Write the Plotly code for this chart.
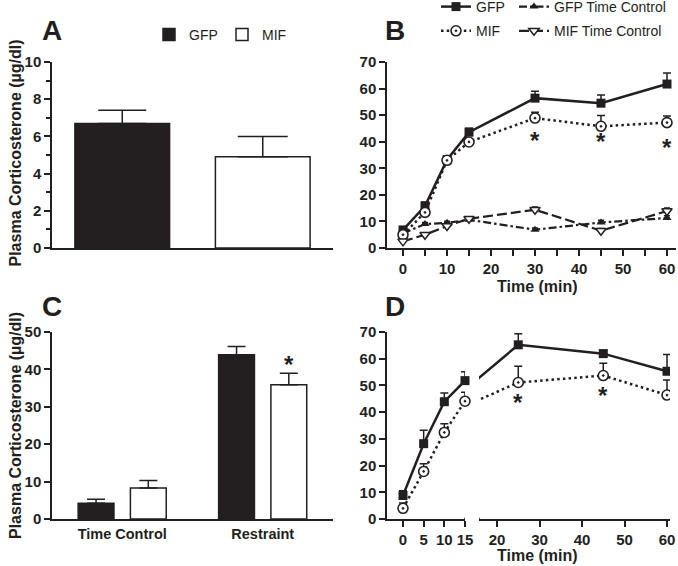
import plotly.graph_objects as go

W, H = 678, 566
INK = "#231f20"
FONT = "Liberation Sans, Arial, sans-serif"

# ---- data ----
A_GROUPS = ["GFP", "MIF"]
A_MEAN = [6.7, 4.9]
A_SEM = [0.7, 1.1]

B_TIME = [0, 5, 10, 15, 30, 45, 60]
B_GFP = [6.8, 15.8, 33.2, 43.6, 56.4, 54.5, 61.7]
B_GFP_SEM = [1.0, 1.5, 1.5, 1.5, 2.6, 3.1, 4.2]
B_MIF = [5.0, 13.4, 33.0, 39.9, 48.9, 45.8, 47.2]
B_MIF_SEM = [1.0, 1.0, 1.0, 1.0, 2.2, 4.1, 2.5]
B_GFP_TC = [5.5, 9.0, 9.5, 10.6, 6.9, 9.6, 11.3]
B_GFP_TC_SEM = [0.6, 0.6, 0.6, 0.8, 0.6, 0.8, 0.8]
B_MIF_TC = [2.5, 5.0, 8.3, 11.0, 14.4, 6.5, 13.9]
B_MIF_TC_SEM = [0.5, 0.6, 0.7, 0.8, 1.0, 0.8, 1.2]
B_SIG_TIME = [30, 45, 60]
B_SIG_Y = [42.0, 41.6, 39.2]

C_GROUPS = ["Time Control", "Restraint"]
C_GFP = [4.2, 43.9]
C_GFP_SEM = [1.1, 2.2]
C_MIF = [8.3, 35.9]
C_MIF_SEM = [2.0, 3.1]
C_SIG_GROUP = "Restraint"
C_SIG_Y = 42.3

D_TIME = [0, 5, 10, 15, 25, 45, 60]
D_GFP = [8.8, 28.2, 43.9, 51.8, 65.2, 61.9, 55.3]
D_GFP_SEM = [1.8, 5.0, 3.3, 3.3, 4.1, 1.3, 6.3]
D_MIF = [4.0, 17.8, 32.4, 44.1, 51.1, 53.7, 46.4]
D_MIF_SEM = [2.0, 2.9, 3.3, 3.3, 6.1, 4.6, 5.6]
D_SIG_TIME = [25, 45]
D_SIG_Y = [45.0, 47.8]


def px_x(p):
    return p / W


def px_y(p):
    return 1 - p / H


def up_err(sem, width):
    return dict(type="data", array=sem, arrayminus=[0] * len(sem), symmetric=False,
                color=INK, thickness=1.5, width=width)


GFP_LINE = dict(color=INK, width=2.5)
MIF_LINE = dict(color=INK, width=2.5, dash="2.5px,3.2px")
GFP_MARK = dict(symbol="square", size=9, color=INK)
MIF_MARK = dict(symbol="circle-dot", size=10, color="white", line=dict(color=INK, width=1.6))

fig = go.Figure()

# ---- A ----
fig.add_trace(go.Bar(x=[A_GROUPS[0]], y=[A_MEAN[0]], width=0.674, name="GFP",
                     marker=dict(color=INK, line=dict(color=INK, width=1.5)),
                     error_y=up_err([A_SEM[0]], 24), xaxis="x", yaxis="y", legend="legend"))
fig.add_trace(go.Bar(x=[A_GROUPS[1]], y=[A_MEAN[1]], width=0.674, name="MIF",
                     marker=dict(color="white", line=dict(color=INK, width=1.5)),
                     error_y=up_err([A_SEM[1]], 25), xaxis="x", yaxis="y", legend="legend"))

# ---- B ----  (legend2 = left column, legend3 = right column)
fig.add_trace(go.Scatter(x=B_TIME, y=B_GFP, name="GFP", mode="lines+markers",
                         line=GFP_LINE, marker=GFP_MARK, error_y=up_err(B_GFP_SEM, 4),
                         xaxis="x2", yaxis="y2", legend="legend2", legendgroup="g1"))
fig.add_trace(go.Scatter(x=B_TIME, y=B_GFP_TC, name="GFP Time Control", mode="lines+markers",
                         line=dict(color=INK, width=2.2, dash="8px,3px,2.5px,3px"),
                         marker=dict(symbol="triangle-up", size=8, color=INK),
                         error_y=up_err(B_GFP_TC_SEM, 3),
                         xaxis="x2", yaxis="y2", legend="legend3", legendgroup="g3"))
fig.add_trace(go.Scatter(x=B_TIME, y=B_MIF, name="MIF", mode="lines+markers",
                         line=MIF_LINE, marker=MIF_MARK, error_y=up_err(B_MIF_SEM, 4),
                         xaxis="x2", yaxis="y2", legend="legend2", legendgroup="g2"))
fig.add_trace(go.Scatter(x=B_TIME, y=B_MIF_TC, name="MIF Time Control", mode="lines+markers",
                         line=dict(color=INK, width=2.2, dash="10px,4px"),
                         marker=dict(symbol="triangle-down", size=9, color="white",
                                     line=dict(color=INK, width=1.5)),
                         error_y=up_err(B_MIF_TC_SEM, 3),
                         xaxis="x2", yaxis="y2", legend="legend3", legendgroup="g4"))

# ---- C ----
fig.add_trace(go.Bar(x=C_GROUPS, y=C_GFP, width=0.255, offset=-0.314, showlegend=False,
                     marker=dict(color=INK, line=dict(color=INK, width=1.5)),
                     error_y=up_err(C_GFP_SEM, 9), xaxis="x3", yaxis="y3"))
fig.add_trace(go.Bar(x=C_GROUPS, y=C_MIF, width=0.255, offset=0.058, showlegend=False,
                     marker=dict(color="white", line=dict(color=INK, width=1.5)),
                     error_y=up_err(C_MIF_SEM, 9), xaxis="x3", yaxis="y3"))

# ---- D (broken x axis: 0-15 then 20-60) ----
n1 = 4
for vals, sem, line, mark in ((D_GFP, D_GFP_SEM, GFP_LINE, GFP_MARK),
                              (D_MIF, D_MIF_SEM, MIF_LINE, MIF_MARK)):
    # first segment, 0-15 min
    fig.add_trace(go.Scatter(x=D_TIME[:n1], y=vals[:n1], mode="lines+markers", showlegend=False,
                             line=line, marker=mark, error_y=up_err(sem[:n1], 4),
                             cliponaxis=False, xaxis="x4", yaxis="y4"))
    # connecting line runs from the 15 min point and gets clipped at the break
    fig.add_trace(go.Scatter(x=D_TIME[n1 - 1:], y=vals[n1 - 1:], mode="lines", showlegend=False,
                             line=line, xaxis="x5", yaxis="y4"))
    fig.add_trace(go.Scatter(x=D_TIME[n1:], y=vals[n1:], mode="markers", showlegend=False,
                             marker=mark, error_y=up_err(sem[n1:], 4),
                             xaxis="x5", yaxis="y4"))

tickfont = dict(family=FONT, size=15, color=INK, weight="bold")
ax = dict(showline=True, linecolor=INK, linewidth=1.5, ticks="outside", ticklen=6,
          tickwidth=1.5, tickcolor=INK, tickfont=tickfont, showgrid=False, zeroline=False,
          fixedrange=True, automargin=False)

yA = [px_y(248), px_y(62)]
yC = [px_y(519), px_y(332)]
leg_font = dict(family=FONT, size=14, color=INK)

fig.update_layout(
    template="none",
    width=W, height=H, margin=dict(l=0, r=0, t=0, b=0, autoexpand=False),
    paper_bgcolor="white", plot_bgcolor="white",
    font=dict(family=FONT, color=INK),
    barmode="overlay",
    xaxis=dict(ax, domain=[px_x(52), px_x(333)], anchor="y", type="category",
               range=[-0.5, 1.5], ticks="", showticklabels=False),
    yaxis=dict(ax, domain=yA, anchor="x", range=[0, 10], dtick=2,
               minor=dict(dtick=1, ticks="outside", ticklen=4, tickwidth=1.5, tickcolor=INK)),
    xaxis2=dict(ax, domain=[px_x(387), px_x(676)], anchor="y2", range=[-3.64, 62.05], dtick=10,
                minor=dict(dtick=5, ticks="outside", ticklen=6, tickwidth=1.5, tickcolor=INK)),
    yaxis2=dict(ax, domain=yA, anchor="x2", range=[0, 70], dtick=10),
    xaxis3=dict(ax, domain=[px_x(52), px_x(333)], anchor="y3", type="category",
                range=[-0.5, 1.5], ticks="", ticklabelstandoff=1,
                tickfont=dict(family=FONT, size=14.5, color=INK, weight="bold")),
    yaxis3=dict(ax, domain=yC, anchor="x3", range=[0, 50], dtick=10),
    xaxis4=dict(ax, domain=[px_x(387), px_x(465)], anchor="y4", range=[-3.87, 15],
                tickvals=[0, 5, 10, 15]),
    xaxis5=dict(ax, domain=[px_x(479), px_x(670)], anchor="y4", range=[15.76, 60.7],
                tickvals=[20, 30, 40, 50, 60]),
    yaxis4=dict(ax, domain=yC, anchor="x4", range=[0, 70], dtick=10),
    legend=dict(x=px_x(149), y=px_y(35), xanchor="left", yanchor="middle", orientation="h",
                font=leg_font, bgcolor="rgba(0,0,0,0)", entrywidth=28, itemwidth=30),
    legend2=dict(x=px_x(436), y=px_y(-9), xanchor="left", yanchor="top", orientation="v",
                 font=leg_font, bgcolor="rgba(0,0,0,0)", itemwidth=30, tracegroupgap=3),
    legend3=dict(x=px_x(514), y=px_y(-9), xanchor="left", yanchor="top", orientation="v",
                 font=leg_font, bgcolor="rgba(0,0,0,0)", itemwidth=30, tracegroupgap=3),
)

# break marks on the D time axis
for xr, xv in (("x4", 15), ("x5", 15.76)):
    fig.add_shape(type="line", xref=xr, yref="y4", x0=xv, x1=xv, y0=-0.5, y1=0.45,
                  line=dict(color=INK, width=1.5))

ann_bold = dict(family=FONT, color=INK, weight="bold")
paper_ann = dict(xref="paper", yref="paper", xanchor="center", yanchor="middle", showarrow=False)
for letter, x, y in (("A", 52, 30), ("B", 395, 30), ("C", 52, 306), ("D", 395, 306)):
    fig.add_annotation(paper_ann, text=letter, x=px_x(x), y=px_y(y), font=dict(ann_bold, size=28))

for y in (153.5, 426):
    fig.add_annotation(paper_ann, text="Plasma Corticosterone (µg/dl)", x=px_x(15), y=px_y(y),
                       textangle=-90, font=dict(ann_bold, size=16))

for y in (286, 555):
    fig.add_annotation(paper_ann, text="Time (min)", x=px_x(537), y=px_y(y),
                       font=dict(ann_bold, size=16))

star = dict(showarrow=False, text="*", font=dict(ann_bold, size=24), xanchor="center",
            yanchor="middle", yshift=-4)
for t, v in zip(B_SIG_TIME, B_SIG_Y):
    fig.add_annotation(star, x=t, y=v, xref="x2", yref="y2")
for t, v in zip(D_SIG_TIME, D_SIG_Y):
    fig.add_annotation(star, x=t, y=v, xref="x5", yref="y4")
fig.add_annotation(star, x=C_SIG_GROUP, y=C_SIG_Y, xref="x3", yref="y3", xshift=26)

# the page's default 8px body margin would shift the whole figure
fig.write_html("out.html", config={"displayModeBar": False},
               post_script="document.body.style.margin='0px';")
